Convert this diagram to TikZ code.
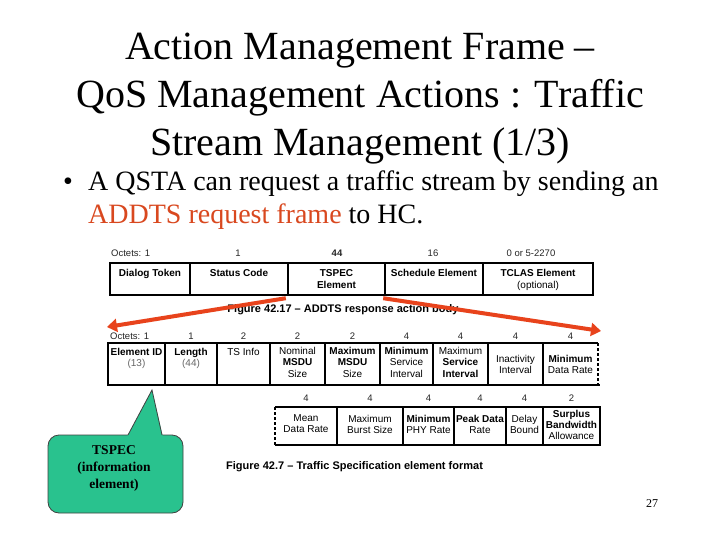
\documentclass[tikz,border=0pt]{standalone}
\usepackage{fontspec}
\setmainfont{Liberation Serif}
\setsansfont{Liberation Sans}
\usetikzlibrary{arrows.meta}
\definecolor{addts}{HTML}{D9481F}
\definecolor{arrowred}{HTML}{E8431C}
\definecolor{calloutfill}{HTML}{29C28E}
\begin{document}
\begin{tikzpicture}[x=1pt,y=-1pt,
  titletext/.style={font=\fontsize{40}{48}\selectfont, anchor=base, inner sep=0pt},
  bullettext/.style={font=\fontsize{28}{32}\selectfont, anchor=base west, inner sep=0pt},
  frame/.style={line width=2pt},
  dashframe/.style={line width=2pt, dash pattern=on 3pt off 2pt},
  divider/.style={line width=1.3pt},
  cellb/.style={font=\sffamily\bfseries\fontsize{10}{12}\selectfont, align=center, anchor=north, inner sep=0pt},
  cellr/.style={font=\sffamily\fontsize{10}{11.5}\selectfont, align=center, anchor=north, inner sep=0pt},
  cellc/.style={font=\sffamily\fontsize{10}{11}\selectfont, align=center, anchor=center, inner sep=0pt},
  octet/.style={font=\sffamily\fontsize{9.5}{11}\selectfont, text=black!85, inner sep=0pt, anchor=base},
  figcaption/.style={font=\sffamily\bfseries\fontsize{11}{13}\selectfont, inner sep=0pt},
  bigarrow/.style={arrowred, line width=4pt, -{Triangle[length=10pt,width=13pt]}},
  calloutline/.style={draw=black!75, line width=0.8pt},
]
\useasboundingbox (0,0) rectangle (720,540);
\fill[white] (0,0) rectangle (720,540);

% Title
\node[titletext] (t1) at (360,60) {Action Management Frame –};
\node[titletext] (t2) at (360,108) {QoS Management Actions : Traffic};
\node[titletext] (t3) at (360,156) {Stream Management (1/3)};

% Bullet
\node[bullettext] (bul) at (63,191) {•};
\node[bullettext] (b1) at (88,191) {A QSTA can request a traffic stream by sending an};
\node[bullettext] (b2) at (88,223) {\textcolor{addts}{ADDTS request frame} to HC.};

% ---------- Table 1: ADDTS response action body ----------
\node[octet, anchor=base west] (o1a) at (111,256) {Octets: 1};
\node[octet] (o1b) at (238,256) {1};
\node[octet, font=\sffamily\bfseries\fontsize{9.5}{11}\selectfont] (o1c) at (337,256) {44};
\node[octet] (o1d) at (433,256) {16};
\node[octet] (o1e) at (531,256) {0 or 5-2270};

\draw[frame] (110,263) rectangle (593,295);
\foreach \xx in {190,288,385,483} \draw[divider] (\xx,263) -- (\xx,295);

\node[cellb] (dt) at (150,269) {Dialog Token};
\node[cellb] (sc) at (239,269) {Status Code};
\node[cellb] (ts) at (336.5,269) {TSPEC\\Element};
\node[cellb] (se) at (434,269) {Schedule Element};
\node[cellb] (tc) at (538,269) {TCLAS Element\\\mdseries(optional)};
\node[inner sep=0pt, minimum width=97pt, minimum height=34pt] (tspeccell) at (336.5,280) {};

\node[figcaption] (cap1) at (343,310) {Figure 42.17 – ADDTS response action body};

% ---------- Table 2: TSPEC element (first part) ----------
\node[octet, anchor=base west] (o2a) at (110,339) {Octets: 1};
\node[octet] (o2b) at (191,339) {1};
\node[octet] (o2c) at (243.5,339) {2};
\node[octet] (o2d) at (297.5,339) {2};
\node[octet] (o2e) at (352.5,339) {2};
\node[octet] (o2f) at (406.5,339) {4};
\node[octet] (o2g) at (460.5,339) {4};
\node[octet] (o2h) at (515.5,339) {4};
\node[octet] (o2i) at (570.5,339) {4};

\draw[frame] (598,343) -- (108,343) -- (108,385) -- (600,385);
\draw[dashframe] (598,343) -- (598,385);
\foreach \xx in {165,217,270,325,380,433,488,543} \draw[divider] (\xx,343) -- (\xx,385);

\node[cellr] (c1) at (136.5,348) {\textbf{Element ID}\\\textcolor{black!60}{(13)}};
\node[cellr] (c2) at (191,348) {\textbf{Length}\\\textcolor{black!60}{(44)}};
\node[cellr] (c3) at (243.5,348) {TS Info};
\node[cellr] (c4) at (297.5,347) {Nominal\\\textbf{MSDU}\\Size};
\node[cellr] (c5) at (352.5,347) {\textbf{Maximum}\\\textbf{MSDU}\\Size};
\node[cellr] (c6) at (406.5,347) {\textbf{Minimum}\\Service\\Interval};
\node[cellr] (c7) at (460.5,347) {Maximum\\\textbf{Service}\\\textbf{Interval}};
\node[cellr] (c8) at (515.5,355) {Inactivity\\Interval};
\node[cellr] (c9) at (570.5,355) {\textbf{Minimum}\\Data Rate};

% ---------- Table 3: TSPEC element (second part) ----------
\node[octet] (o3a) at (306,401) {4};
\node[octet] (o3b) at (370,401) {4};
\node[octet] (o3c) at (428.5,401) {4};
\node[octet] (o3d) at (480,401) {4};
\node[octet] (o3e) at (524.5,401) {4};
\node[octet] (o3f) at (571.5,401) {2};

\draw[frame] (275,407) -- (600,407) -- (600,445) -- (275,445);
\draw[dashframe] (275,407) -- (275,445);
\foreach \xx in {337,403,454,506,543} \draw[divider] (\xx,407) -- (\xx,445);

\node[cellc] (d1) at (306,424) {Mean\\Data Rate};
\node[cellc] (d2) at (370,424) {Maximum\\Burst Size};
\node[cellc] (d3) at (428.5,424) {\textbf{Minimum}\\PHY Rate};
\node[cellc] (d4) at (480,424) {\textbf{Peak Data}\\Rate};
\node[cellc] (d5) at (524.5,424) {Delay\\Bound};
\node[cellc] (d6) at (571.5,425) {\textbf{Surplus}\\\textbf{Bandwidth}\\Allowance};

\node[figcaption, anchor=base west] (cap2) at (226,469) {Figure 42.7 – Traffic Specification element format};

% ---------- Red arrows ----------
\coordinate (leftend) at (107,327);
\coordinate (rightend) at (601,331);
\draw[bigarrow] ([shift={(-2,1)}]tspeccell.south west) -- (leftend);
\draw[bigarrow] ([shift={(-2,1)}]tspeccell.south east) -- (rightend);

% ---------- Callout ----------
\draw[calloutline, fill=calloutfill, rounded corners=11pt] (48,435) rectangle (183,513);
\fill[calloutfill] (127.2,436.6) -- (152,390) -- (162.8,436.6) -- cycle;
\draw[calloutline, line join=miter] (128,435) -- (152,390) -- (162,435);
\node[font=\bfseries\fontsize{13.5}{17}\selectfont, align=center, inner sep=0pt] (callout) at (114,468) {TSPEC\\(information\\element)};

% Page number
\node[font=\fontsize{12}{14}\selectfont, inner sep=0pt] (pg) at (652,504) {27};
\end{tikzpicture}
\end{document}
